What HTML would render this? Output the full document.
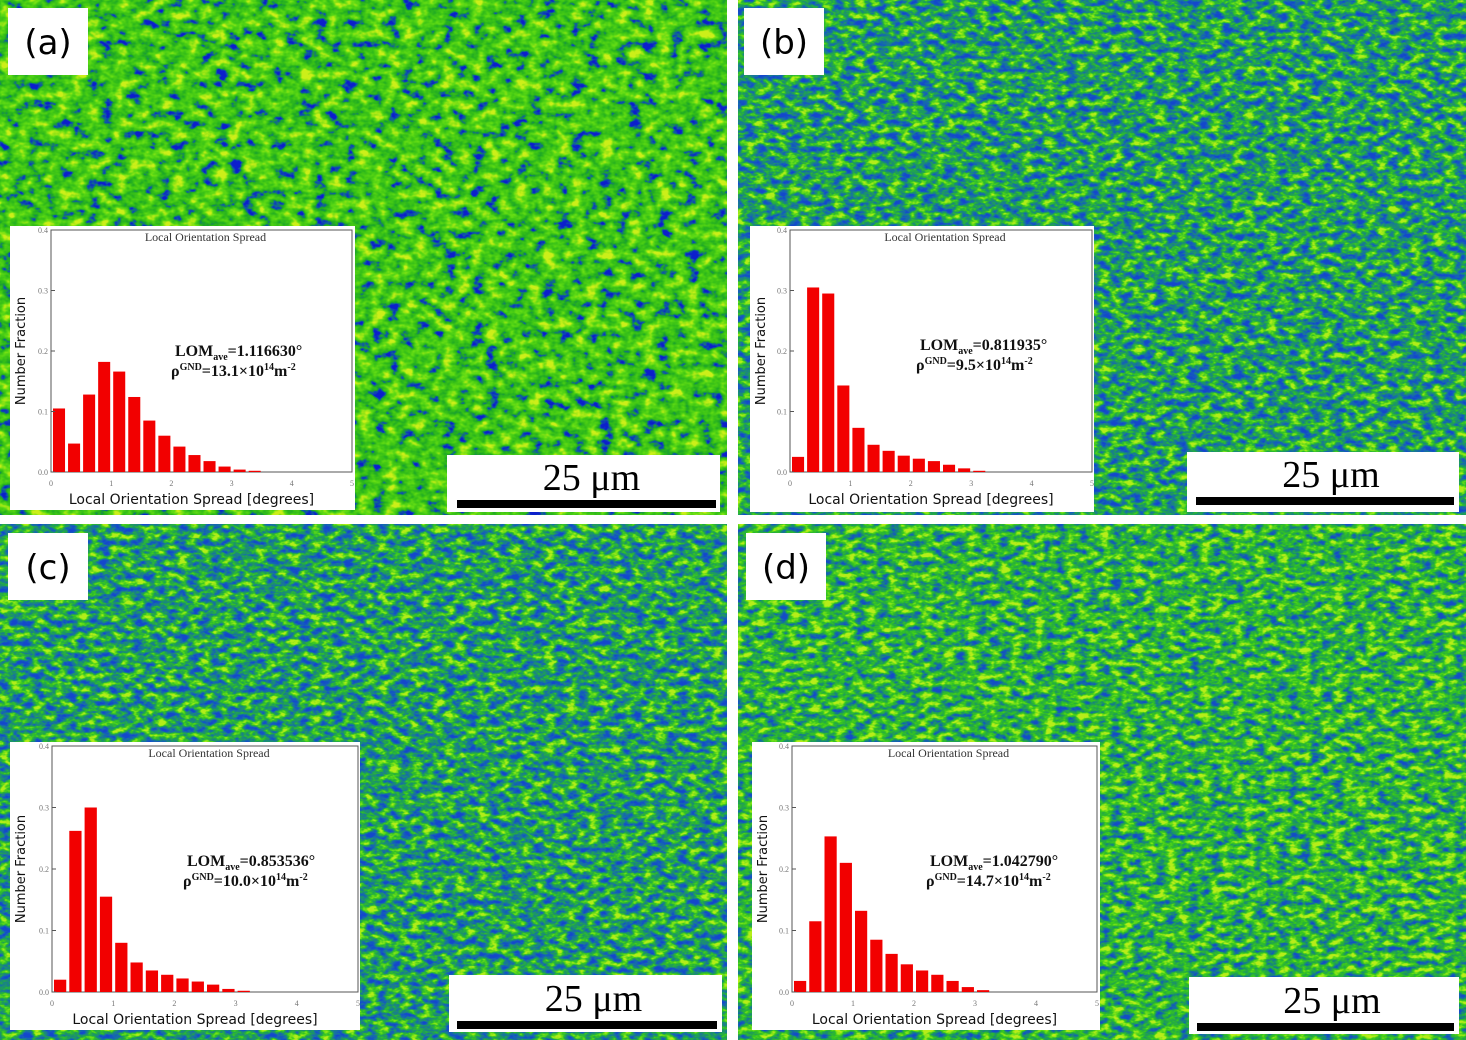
<!DOCTYPE html>
<html><head><meta charset="utf-8">
<style>
html,body{margin:0;padding:0;background:#fff;width:1466px;height:1040px;overflow:hidden}
svg{display:block}
</style></head><body>
<svg id="s" width="1466" height="1040" xmlns="http://www.w3.org/2000/svg">
<defs>
<filter id="fa" x="0" y="0" width="100%" height="100%" color-interpolation-filters="sRGB">
<feTurbulence type="fractalNoise" baseFrequency="0.07 0.1" numOctaves="3" seed="3"/>
<feColorMatrix type="matrix" values="0 0 0 0 0  1.8 0 0 0 -0.4  0 0 0 0 0  0 0 0 0 1"/>
<feColorMatrix type="matrix" values="0 1 0 0 0 0 1 0 0 0 0 1 0 0 0 0 0 0 0 1"/>
<feComponentTransfer>
<feFuncR type="table" tableValues="0.05 0.06 0.12 0.2 0.28 0.38 0.6 0.8"/>
<feFuncG type="table" tableValues="0.12 0.35 0.66 0.74 0.8 0.86 0.9 0.94"/>
<feFuncB type="table" tableValues="0.8 0.65 0.15 0.1 0.08 0.08 0.08 0.1"/>
<feFuncA type="table" tableValues="1 1"/>
</feComponentTransfer>
</filter>
<filter id="fb" x="0" y="0" width="100%" height="100%" color-interpolation-filters="sRGB">
<feTurbulence type="fractalNoise" baseFrequency="0.09 0.15" numOctaves="3" seed="7"/>
<feColorMatrix type="matrix" values="0 0 0 0 0  1.9 0 0 0 -0.45  0 0 0 0 0  0 0 0 0 1"/>
<feColorMatrix type="matrix" values="0 1 0 0 0 0 1 0 0 0 0 1 0 0 0 0 0 0 0 1"/>
<feComponentTransfer>
<feFuncR type="table" tableValues="0.08 0.08 0.1 0.12 0.2 0.42 0.7"/>
<feFuncG type="table" tableValues="0.28 0.36 0.48 0.62 0.76 0.87 0.93"/>
<feFuncB type="table" tableValues="0.8 0.75 0.58 0.35 0.15 0.1 0.1"/>
<feFuncA type="table" tableValues="1 1"/>
</feComponentTransfer>
</filter>
<filter id="fd" x="0" y="0" width="100%" height="100%" color-interpolation-filters="sRGB">
<feTurbulence type="fractalNoise" baseFrequency="0.09 0.15" numOctaves="3" seed="11"/>
<feColorMatrix type="matrix" values="0 0 0 0 0  1.9 0 0 0 -0.4  0 0 0 0 0  0 0 0 0 1"/>
<feColorMatrix type="matrix" values="0 1 0 0 0 0 1 0 0 0 0 1 0 0 0 0 0 0 0 1"/>
<feComponentTransfer>
<feFuncR type="table" tableValues="0.08 0.08 0.1 0.15 0.22 0.45 0.72"/>
<feFuncG type="table" tableValues="0.3 0.4 0.55 0.68 0.78 0.88 0.93"/>
<feFuncB type="table" tableValues="0.78 0.68 0.45 0.25 0.12 0.1 0.1"/>
<feFuncA type="table" tableValues="1 1"/>
</feComponentTransfer>
</filter>
</defs>
<rect x="0" y="0" width="1466" height="1040" fill="#fff"/>
<rect x="0" y="0" width="727" height="515" filter="url(#fa)"/>
<rect x="738" y="0" width="728" height="515" filter="url(#fb)"/>
<rect x="0" y="524" width="727" height="516" filter="url(#fb)"/>
<rect x="738" y="524" width="728" height="516" filter="url(#fd)"/>
<g id="g"></g>
</svg>
<script>
var g=document.getElementById('g'),h='';
function R(x,y,w,hh,f){h+='<rect x="'+x+'" y="'+y+'" width="'+w+'" height="'+hh+'" fill="'+f+'"/>';}
function T(x,y,s,t,st){h+='<text x="'+x+'" y="'+y+'" '+(st||'')+'>'+t+'</text>';}
var P=[
{bx:10,by:226,bw:345,bh:284,ox:51,oy:472,top:230,x5:352,ax:175,ay:356,lom:'1.116630',rho:'13.1',
 v:[.105,.047,.128,.182,.166,.124,.085,.06,.042,.028,.018,.009,.004,.002]},
{bx:750,by:226,bw:344,bh:286,ox:790,oy:472,top:230,x5:1092,ax:920,ay:350,lom:'0.811935',rho:'9.5',
 v:[.025,.305,.295,.143,.073,.045,.035,.027,.022,.018,.012,.006,.002]},
{bx:10,by:742,bw:350,bh:288,ox:52,oy:992,top:746,x5:358,ax:187,ay:866,lom:'0.853536',rho:'10.0',
 v:[.02,.262,.3,.155,.08,.048,.035,.028,.022,.017,.012,.005,.002]},
{bx:752,by:742,bw:348,bh:288,ox:792,oy:992,top:746,x5:1097,ax:930,ay:866,lom:'1.042790',rho:'14.7',
 v:[.018,.115,.253,.21,.132,.085,.062,.045,.035,.028,.018,.008,.003]}];
P.forEach(function(p){
 R(p.bx,p.by,p.bw,p.bh,'#fff');
 var ux=(p.x5-p.ox)/5, uy=(p.oy-p.top)/0.4;
 h+='<rect x="'+p.ox+'" y="'+p.top+'" width="'+(p.x5-p.ox)+'" height="'+(p.oy-p.top)+'" fill="none" stroke="#555" stroke-width="1"/>';
 p.v.forEach(function(v,i){R(p.ox+ux*0.25*i+2,p.oy-v*uy,ux*0.2,v*uy,'#f20000');});
 for(var k=0;k<=4;k++){var y=p.oy-k*0.1*uy;T(p.ox-3,y+3,8,'0.'+k,'font-family="Liberation Serif" font-size="8" fill="#777" text-anchor="end"');
  h+='<line x1="'+p.ox+'" x2="'+(p.ox+4)+'" y1="'+y+'" y2="'+y+'" stroke="#555"/>';}
 for(k=0;k<=5;k++){T(p.ox+k*ux,p.oy+14,8,k,'font-family="Liberation Serif" font-size="8" fill="#777" text-anchor="middle"');}
 T((p.ox+p.x5)/2+4,p.top+11,0,'Local Orientation Spread','font-family="Liberation Serif" font-size="12" fill="#333" text-anchor="middle"');
 T((p.ox+p.x5)/2-10,p.oy+32,0,'Local Orientation Spread [degrees]','font-family="DejaVu Sans" font-size="14" fill="#111" text-anchor="middle"');
 var cy=(p.oy+p.top)/2;
 T(0,0,0,'Number Fraction','font-family="DejaVu Sans" font-size="13" fill="#111" text-anchor="middle" transform="translate('+(p.bx+15)+','+cy+') rotate(-90)"');
 T(p.ax,p.ay,0,'LOM<tspan font-size="10" dy="4">ave</tspan><tspan dy="-4">='+p.lom+'°</tspan>','font-family="Liberation Serif" font-size="16" font-weight="bold" fill="#111"');
 T(p.ax-4,p.ay+20,0,'ρ<tspan font-size="10" dy="-6">GND</tspan><tspan dy="6">='+p.rho+'×10</tspan><tspan font-size="10" dy="-6">14</tspan><tspan dy="6">m</tspan><tspan font-size="10" dy="-6">-2</tspan>','font-family="Liberation Serif" font-size="16" font-weight="bold" fill="#111"');
});
var S=[[447,455,273,57,457,500,259],[1187,452,272,60,1196,497,258],[449,975,273,57,457,1021,260],[1189,977,270,57,1197,1023,257]];
S.forEach(function(s){R(s[0],s[1],s[2],s[3],'#fff');R(s[4],s[5],s[6],8,'#000');
 T(s[0]+s[2]/2+8,s[5]-10,0,'25 μm','font-family="Liberation Serif" font-size="38" fill="#000" text-anchor="middle"');});
var L=[[8,8,'(a)'],[744,8,'(b)'],[8,533,'(c)'],[746,533,'(d)']];
L.forEach(function(l){R(l[0],l[1],80,67,'#fff');T(l[0]+40,l[1]+46,0,l[2],'font-family="DejaVu Sans" font-size="34" fill="#000" text-anchor="middle"');});
g.innerHTML=h;
</script>
</body></html>
